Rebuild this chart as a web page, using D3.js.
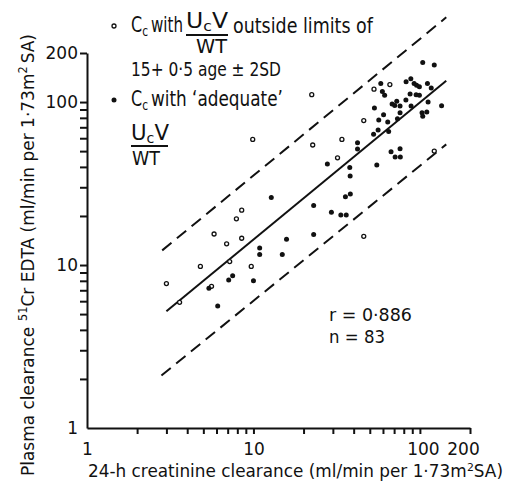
<html>
<head>
    <meta charset="utf-8">
</head>
<body style="margin:0">
<script src="https://cdn.jsdelivr.net/npm/d3@7"></script>
<script>
    // Cc with UcV/WT outside limits (open) and adequate (filled), [creatinine, EDTA]
    var openPts = [
        [3.0,7.7],[3.6,5.9],[4.8,9.8],[5.8,15.5],[6.9,13.5],[7.2,10.5],[7.9,19.2],[8.5,21.7],[8.5,14.6],[5.6,7.4],
        [9.7,9.8],[9.9,59],[22.4,111],[22.7,54.5],[32,45.5],[34,59],[46,77],[46,15],[53,120],[66,128],[122,50]
    ];
    var filledPts = [
        [5.4,7.2],[6.1,5.6],[7.1,8.1],[7.5,8.6],[10,8.0],[10.9,12.7],[10.9,11.6],[12.8,26],[14.9,11.6],[15.8,14.4],
        [23,23.2],[23,15.4],[27.8,41.7],[29.4,21.1],[33.5,20.3],[36.1,20.3],[35.7,26.2],[38.2,27.3],[37.9,39.7],[38.1,35.2],
        [42.2,56.3],[42.2,51.5],[52.7,63.4],[53.3,92],[55.1,41.1],[56.1,67.3],[56.6,77.6],[60.5,83.6],[64.1,75.4],[64.9,65.9],
        [58.2,130],[59.5,116],[61.4,110],[67.1,49.6],[71,46],[76.3,46],[76,51.7],[68.1,97.2],[70.6,95.2],[72.6,101],
        [76,94.5],[76,86],[73.3,79],[82.4,103],[82.6,133],[88.2,139],[88.5,94.5],[87.3,112],[92.3,130],[95.5,127],
        [99.3,124],[94.9,111],[99.3,110],[104,175],[122,169],[111,130],[117,122],[112,100],[135,95],[103,86],
        [110,87],[104,81.7]
    ];
    var fitLine = [[3,5.2],[144,135]];
    var upperLine = [[2.83,12.3],[144,331]];
    var lowerLine = [[2.8,2.1],[144,55]];
    var minorTicks = [2,3,4,5,6,7,8,9,10,20,30,40,50,60,70,80,90,100,200];
    var tickLabels = [1,10,100,200];

    var width = 508, height = 482;
    var svg = d3.select("body")
                .append("svg")
                .attr("width", width)
                .attr("height", height)
                .attr("font-family", "DejaVu Sans")
                .style("background", "#fff");

    var x = d3.scaleLog().domain([1,200]).range([87,470]);
    var y = d3.scaleLog().domain([1,200]).range([428,53]);

    var xTicks = svg.append("g")
                    .attr("transform", "translate(0,428)")
                    .call(d3.axisBottom(x).tickValues(minorTicks).tickFormat("").tickSize(6).tickSizeOuter(0));
    var yTicks = svg.append("g")
                    .attr("transform", "translate(87,0)")
                    .call(d3.axisLeft(y).tickValues(minorTicks).tickFormat("").tickSize(7).tickSizeOuter(0));
    svg.selectAll(".domain, .tick line").attr("stroke", "#111").attr("stroke-width", 2);

    var xLab = svg.append("g")
                  .attr("transform", "translate(0,428)")
                  .call(d3.axisBottom(x).tickValues(tickLabels).tickFormat(d3.format("d")).tickSize(0).tickPadding(15));
    var yLab = svg.append("g")
                  .attr("transform", "translate(87,0)")
                  .call(d3.axisLeft(y).tickValues(tickLabels).tickFormat(d3.format("d")).tickSize(0).tickPadding(9));
    xLab.select(".domain").remove();
    yLab.select(".domain").remove();
    svg.selectAll("g text").attr("font-family", "DejaVu Sans").attr("font-size", 17).attr("fill", "#111");
    xLab.selectAll(".tick text").attr("dx", d => d == 200 ? -7 : (d == 100 ? 3 : 0));

    var line = d3.line().x(d => x(d[0])).y(d => y(d[1]));
    svg.append("path").attr("d", line(fitLine)).attr("fill", "none").attr("stroke", "#111").attr("stroke-width", 2);
    svg.selectAll(".limit")
       .data([upperLine, lowerLine])
       .join("path")
       .attr("class", "limit")
       .attr("d", line)
       .attr("fill", "none")
       .attr("stroke", "#111")
       .attr("stroke-width", 2)
       .attr("stroke-dasharray", "12,7");

    svg.selectAll(".open")
       .data(openPts)
       .join("circle")
       .attr("class", "open")
       .attr("cx", d => x(d[0]))
       .attr("cy", d => y(d[1]))
       .attr("r", 2)
       .attr("fill", "#fff")
       .attr("stroke", "#111")
       .attr("stroke-width", 1.3);
    svg.selectAll(".filled")
       .data(filledPts)
       .join("circle")
       .attr("class", "filled")
       .attr("cx", d => x(d[0]))
       .attr("cy", d => y(d[1]))
       .attr("r", 2.5)
       .attr("fill", "#111");

    // pieces laid side by side (sub/superscripts as their own texts), squeezed to a length
    function run(pieces, len, transform) {
        var g = svg.append("g");
        var cx = 0;
        pieces.forEach(function(p) {
            var t = g.append("text")
                     .attr("x", cx)
                     .attr("y", p[2] || 0)
                     .attr("font-size", p[1])
                     .attr("fill", "#111")
                     .text(p[0]);
            cx += t.node().getComputedTextLength() + (p[3] || 0);
        });
        g.attr("transform", transform + " scale(" + (len / cx) + ",1)");
        return g;
    }

    // legend
    svg.append("circle").attr("cx", 114).attr("cy", 26).attr("r", 2).attr("fill", "#fff").attr("stroke", "#111").attr("stroke-width", 1.3);
    svg.append("circle").attr("cx", 114).attr("cy", 100).attr("r", 2.5).attr("fill", "#111");
    run([["C",21],["c",14,4]], 17, "translate(131,32)");
    run([["with",21]], 32, "translate(151,32)");
    run([["U",21],["c",14,3],["V",21]], 42, "translate(186,28)");
    svg.append("line").attr("x1", 186).attr("x2", 228).attr("y1", 35).attr("y2", 35).attr("stroke", "#111").attr("stroke-width", 2);
    run([["WT",19]], 31, "translate(196,53)");
    run([["outside limits of",21]], 140, "translate(233,33)");
    run([["15+ 0·5 age ± 2SD",20]], 150, "translate(131,76)");
    run([["C",21],["c",14,4]], 17, "translate(131,106)");
    run([["with ‘adequate’",21]], 132, "translate(151,106)");
    run([["U",21],["c",14,3],["V",21]], 38, "translate(131,140)");
    svg.append("line").attr("x1", 131).attr("x2", 168).attr("y1", 146).attr("y2", 146).attr("stroke", "#111").attr("stroke-width", 2);
    run([["WT",19]], 28, "translate(132,165)");

    run([["r = 0·886",18]], 83, "translate(329,321)");
    run([["n = 83",18]], 56, "translate(329,343)");

    // axis titles
    run([["24-h creatinine clearance (ml/min per 1·73m",17],["2",11,-6],["SA)",17]], 415, "translate(88,477)");
    run([["Plasma clearance",18,0,6],["51",12,-7],["Cr EDTA (ml/min per 1·73m",18],["2",12,-7,3],["SA)",18]], 442,
        "translate(34,476) rotate(-90)");
</script>
</body>
</html>
